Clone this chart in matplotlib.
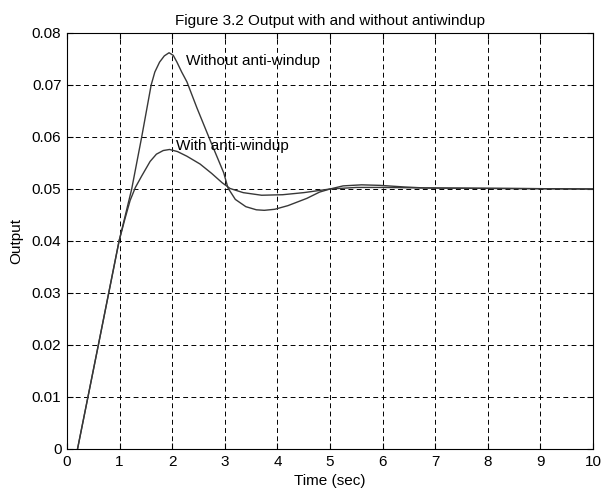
import numpy as np
import matplotlib
matplotlib.use("Agg")
from matplotlib import pyplot as plt

# =======================
# DATA
# =======================

t_without = [0.2, 0.6, 0.99, 1.23, 1.42, 1.6, 1.67, 1.76, 1.85, 1.94, 2.02, 2.09,
             2.18, 2.28, 2.47, 2.72, 2.98, 3.06, 3.2, 3.4, 3.6, 3.75, 3.95, 4.2,
             4.56, 4.8, 5.0, 5.25, 5.6, 5.95, 6.4, 6.8, 10.0]
y_without = [0.0, 0.0202, 0.040, 0.050, 0.060, 0.070, 0.0725, 0.0744, 0.0756, 0.0762,
             0.0757, 0.0744, 0.0725, 0.0706, 0.0656, 0.0594, 0.0531, 0.0502, 0.0480,
             0.0466, 0.0460, 0.0459, 0.0461, 0.0468, 0.0482, 0.0494, 0.0500, 0.0506,
             0.0508, 0.0507, 0.0504, 0.0502, 0.0500]

t_with = [0.2, 0.6, 0.99, 1.1, 1.2, 1.3, 1.42, 1.58, 1.7, 1.83, 1.95, 2.1, 2.28,
          2.53, 2.75, 2.95, 3.1, 3.35, 3.7, 4.1, 4.5, 5.0, 5.5, 6.0, 6.8, 10.0]
y_with = [0.0, 0.0202, 0.040, 0.0442, 0.0478, 0.0503, 0.0525, 0.0553, 0.0567, 0.0574,
          0.0576, 0.0572, 0.0563, 0.0548, 0.0530, 0.0512, 0.0501, 0.0493, 0.0488,
          0.0489, 0.0493, 0.0500, 0.0503, 0.0503, 0.0502, 0.0500]

x_ticks = list(range(0, 11))
y_ticks = [0, 0.01, 0.02, 0.03, 0.04, 0.05, 0.06, 0.07, 0.08]
y_tick_labels = ["0", "0.01", "0.02", "0.03", "0.04", "0.05", "0.06", "0.07", "0.08"]

# =======================
# PLOT
# =======================

plt.rcParams['font.family'] = ['Liberation Sans', 'DejaVu Sans']

fig = plt.figure(figsize=(6.01, 4.92), dpi=100)
ax = fig.add_axes([67 / 601, 1 - 449 / 492, (593 - 67) / 601, (449 - 33) / 492])

ax.plot(t_without, y_without, color="#383838", linewidth=1.0)
ax.plot(t_with, y_with, color="#383838", linewidth=1.0)

ax.text(2.26, 0.0746, "Without anti-windup", fontsize=11, ha="left", va="center")
ax.text(2.08, 0.0582, "With anti-windup", fontsize=11, ha="left", va="center")

ax.set_xlim(0, 10)
ax.set_ylim(0, 0.08)
ax.set_xticks(x_ticks)
ax.set_yticks(y_ticks)
ax.set_yticklabels(y_tick_labels)
ax.tick_params(direction="in", length=4, labelsize=11, width=0.8, top=True, right=True,
               pad=4)
ax.grid(True, color="black", linestyle=(0, (5, 3.5)), linewidth=0.7)
for sp in ax.spines.values():
    sp.set_linewidth(0.8)

ax.set_xlabel("Time (sec)", fontsize=11, labelpad=4)
ax.set_ylabel("Output", fontsize=11, labelpad=6)
ax.set_title("Figure 3.2 Output with and without antiwindup", fontsize=11, pad=6)

fig.savefig("out.png", dpi=100)
